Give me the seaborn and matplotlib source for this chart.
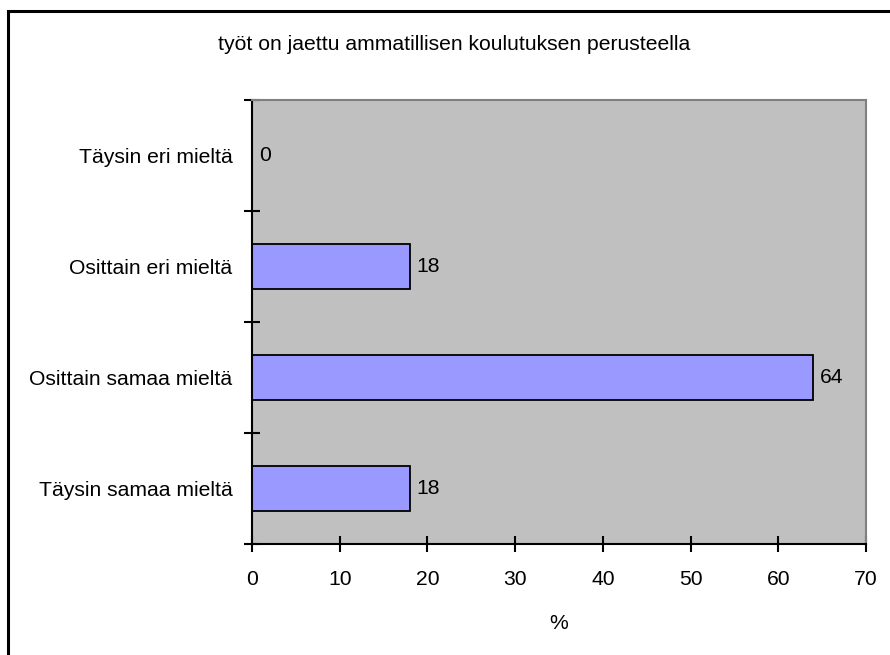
import matplotlib
matplotlib.use("Agg")
import matplotlib.pyplot as plt
import seaborn as sns
import pandas as pd
from matplotlib.patches import Rectangle

categories = ["Täysin eri mieltä", "Osittain eri mieltä",
              "Osittain samaa mieltä", "Täysin samaa mieltä"]
values = [0, 18, 64, 18]
x_ticks = [0, 10, 20, 30, 40, 50, 60, 70]
title = "työt on jaettu ammatillisen koulutuksen perusteella"
x_label = "%"

sns.set_theme(style="white")
plt.rcParams["font.family"] = ["Liberation Sans", "DejaVu Sans"]
plt.rcParams["text.color"] = "black"
plt.rcParams["axes.labelcolor"] = "black"
plt.rcParams["xtick.color"] = "black"
plt.rcParams["ytick.color"] = "black"
FS = 15.2

df = pd.DataFrame({"kategoria": categories, "osuus": values})

fig = plt.figure(figsize=(8.9, 6.55), dpi=100)
fig.patch.set_facecolor("white")
ax = fig.add_axes([252 / 890, 1 - 544 / 655, (866 - 252) / 890, (544 - 100) / 655])
ax.set_facecolor("#C0C0C0")

sns.barplot(data=df, x="osuus", y="kategoria", order=categories, orient="h",
            color="#9999FF", saturation=1, edgecolor="black", linewidth=1.3,
            width=0.4, ax=ax)

for c in ax.containers:
    ax.bar_label(c, labels=[f"{v:g}" for v in values], padding=5,
                 fontsize=FS, color="black")

ax.set_xlim(0, 70)
ax.set_ylim(len(categories) - 0.5, -0.5)
ax.set_xticks(x_ticks)
ax.set_xticklabels([str(t) for t in x_ticks], fontsize=FS)

# category labels on minor ticks, tick marks at the band boundaries
ax.set_yticks([i - 0.5 for i in range(len(categories) + 1)])
ax.set_yticklabels([])
ax.set_yticks(range(len(categories)), minor=True)
ax.set_yticklabels(categories, minor=True, fontsize=FS)
ax.tick_params(axis="y", which="minor", length=0, pad=14)
ax.tick_params(axis="y", which="major", direction="inout", length=12,
               width=1.5, color="black", left=True)
ax.tick_params(axis="x", direction="inout", length=12, width=1.5,
               color="black", bottom=True, pad=13)

ax.set_xlabel(x_label, fontsize=FS, labelpad=18)
ax.set_ylabel("")

for s in ("left", "bottom"):
    ax.spines[s].set_color("black")
    ax.spines[s].set_linewidth(1.5)
for s in ("top", "right"):
    ax.spines[s].set_color("#808080")
    ax.spines[s].set_linewidth(1.5)

fig.text(454 / 890, 1 - 45 / 655, title, ha="center", va="center", fontsize=FS)

# outer chart frame; its right and bottom edges run past the image
top = 1 - 11 / 655
fig.add_artist(Rectangle((8 / 890, -0.2), 1.2, top + 0.2,
                         transform=fig.transFigure, fill=False,
                         edgecolor="black", linewidth=2.2))

fig.savefig("out.png", dpi=100)
